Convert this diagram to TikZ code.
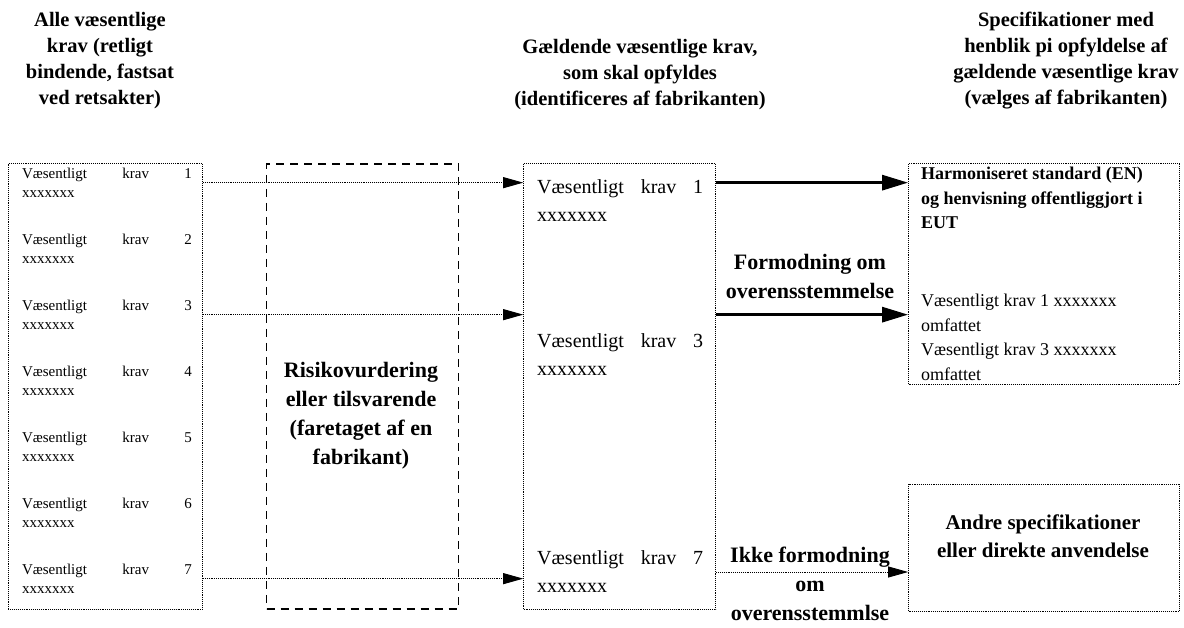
\documentclass[tikz,border=0pt]{standalone}
\usepackage{fontspec}
\setmainfont{Liberation Serif}
\usetikzlibrary{arrows.meta, positioning, calc}

\begin{document}
\begin{tikzpicture}[x=1pt, y=-1pt,
  head/.style={align=center, font=\fontsize{20.5}{26}\selectfont\bfseries},
  reqbox/.style={draw, densely dotted, line width=0.9pt, inner sep=0pt},
  riskbox/.style={draw, dash pattern=on 8pt off 6pt, line width=1.3pt, inner sep=0pt},
  reqrow/.style={text width=170pt, inner sep=0pt, align=left, font=\fontsize{15}{18.5}\selectfont},
  midrow/.style={text width=166pt, inner sep=0pt, align=left, font=\fontsize{20}{28}\selectfont},
  lbl/.style={align=center, font=\fontsize{22}{29}\selectfont\bfseries},
  thinarrow/.style={-{Triangle[length=20pt, width=11pt]}, densely dotted, line width=0.9pt},
  thickarrow/.style={-{Triangle[length=26pt, width=15pt]}, line width=3pt}
]
  \useasboundingbox (0,0) rectangle (1184,628);

  % Headings
  \node[head] (hall) at (100,61) {Alle væsentlige\\krav (retligt\\bindende, fastsat\\ved retsakter)};
  \node[head] (happl) at (640,75) {Gældende væsentlige krav,\\som skal opfyldes\\(identificeres af fabrikanten)};
  \node[head] (hspec) at (1066,61) {Specifikationer med\\henblik pi opfyldelse af\\gældende væsentlige krav\\(vælges af fabrikanten)};

  % Boxes
  \node[reqbox, minimum width=194pt, minimum height=446pt, anchor=north west] (all) at (8,163) {};
  \node[riskbox, minimum width=192pt, minimum height=445pt, right=63pt of all] (risk) {};
  \node[reqbox, minimum width=192pt, minimum height=446pt, right=64pt of risk] (appl) {};
  \node[reqbox, minimum width=271pt, minimum height=221pt, below right=0pt and 192pt of appl.north east] (harm) {};
  \node[reqbox, minimum width=271pt, minimum height=127pt, below=99pt of harm] (other) {};

  % All essential requirements
  \foreach \i in {1,...,7}
    \node[reqrow, anchor=north] (req\i) at (107,{168+66*(\i-1)}) {Væsentligt\hfill krav\hfill \i\\xxxxxxx};

  % Risk assessment
  \node[lbl] (risktxt) at (361,416) {Risikovurdering\\eller tilsvarende\\(faretaget af en\\fabrikant)};

  % Applicable requirements
  \node[midrow, anchor=west] (m1) at (537,201) {Væsentligt\hfill krav\hfill 1\\xxxxxxx};
  \node[midrow, anchor=west] (m3) at (537,355) {Væsentligt\hfill krav\hfill 3\\xxxxxxx};
  \node[midrow, anchor=west] (m7) at (537,572) {Væsentligt\hfill krav\hfill 7\\xxxxxxx};

  % Specifications
  \node[anchor=north west, align=left, inner sep=0pt, font=\fontsize{18}{24.5}\selectfont\bfseries] (harmtitle) at (921,167) {Harmoniseret standard (EN)\\og henvisning offentliggjort i\\EUT};
  \node[anchor=north west, align=left, inner sep=0pt, font=\fontsize{18}{24.5}\selectfont] (harmlist) at (921,294) {Væsentligt krav 1 xxxxxxx\\omfattet\\Væsentligt krav 3 xxxxxxx\\omfattet};
  \node[align=center, font=\fontsize{21}{28}\selectfont\bfseries] (othertxt) at (1043,536) {Andre specifikationer\\eller direkte anvendelse};

  % Arrow labels
  \node[lbl] (presum) at (810,276) {Formodning om\\overensstemmelse};
  \node[lbl] (nopresum) at (810,584) {Ikke formodning\\om\\overensstemmlse};

  % Arrows
  \draw[thinarrow] (all.east |- req1) -- (appl.west |- req1);
  \draw[thinarrow] (all.east |- req3) -- (appl.west |- req3);
  \draw[thinarrow] (all.east |- req7) -- (appl.west |- req7);
  \draw[thickarrow] (appl.east |- req1) -- (harm.west |- req1);
  \draw[thickarrow] (appl.east |- req3) -- (harm.west |- req3);
  \draw[thinarrow] (appl.east |- m7) -- (other.west |- m7);
\end{tikzpicture}
\end{document}
